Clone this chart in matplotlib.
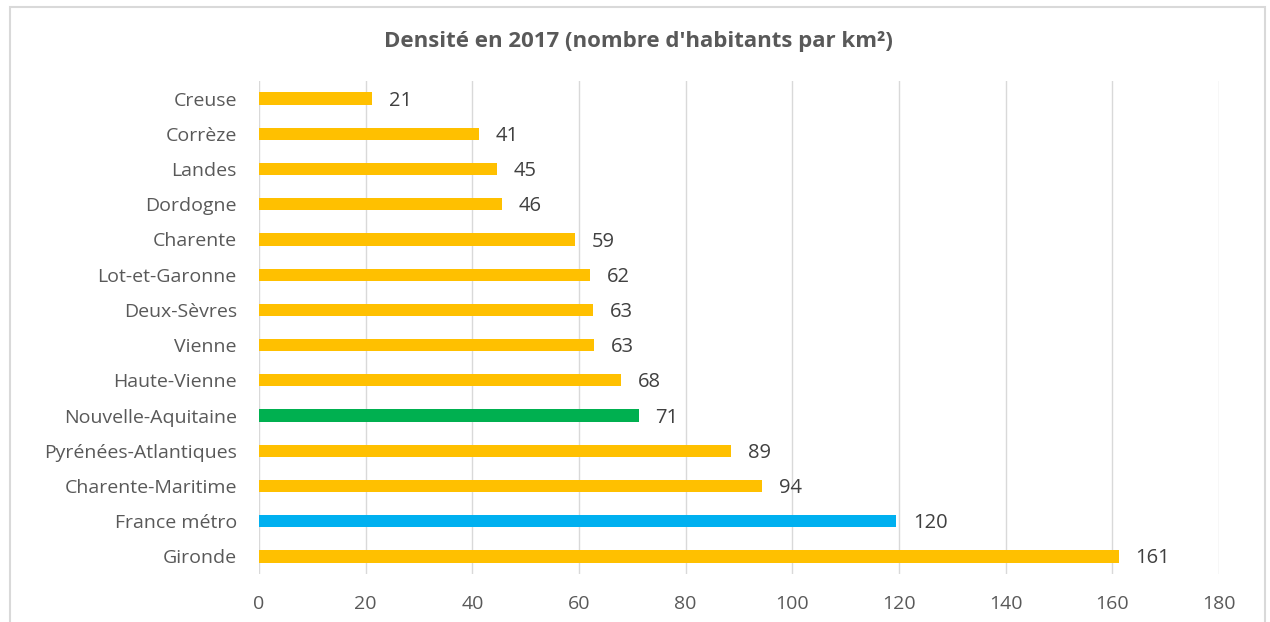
import matplotlib.pyplot as plt
from matplotlib.patches import Rectangle

# Data (top to bottom as displayed)
regions = [
    'Creuse', 'Corrèze', 'Landes', 'Dordogne', 'Charente', 'Lot-et-Garonne',
    'Deux-Sèvres', 'Vienne', 'Haute-Vienne', 'Nouvelle-Aquitaine',
    'Pyrénées-Atlantiques', 'Charente-Maritime', 'France métro', 'Gironde',
]
density = [21.2, 41.2, 44.6, 45.6, 59.3, 62.1, 62.6, 62.8, 67.9, 71.2,
           88.5, 94.4, 119.5, 161.2]
labels = [21, 41, 45, 46, 59, 62, 63, 63, 68, 71, 89, 94, 120, 161]

ORANGE = '#FFC000'
GREEN = '#00B050'
BLUE = '#00B0F0'
TEXT = '#595959'

colors = []
for r in regions:
    if r == 'Nouvelle-Aquitaine':
        colors.append(GREEN)
    elif r == 'France métro':
        colors.append(BLUE)
    else:
        colors.append(ORANGE)

plt.rcParams['font.family'] = ['Open Sans', 'DejaVu Sans']

W, H = 1270, 622
fig = plt.figure(figsize=(W / 100, H / 100), dpi=100)
ax = fig.add_axes([259 / W, 1 - 574 / H, (1219 - 259) / W, (574 - 81) / H])

y = list(range(len(regions)))
ax.barh(y, density, height=0.35, color=colors, zorder=3)
for yi, v, lab in zip(y, density, labels):
    ax.annotate(str(lab), (v, yi), xytext=(12, -1.5), textcoords='offset points',
                va='center', ha='left', fontsize=14.5, color='#404040')

ax.set_xlim(0, 180)
ax.set_ylim(len(regions) - 0.5, -0.5)
ax.set_xticks(range(0, 181, 20))
ax.set_yticks(y)
ax.set_yticklabels(regions)
ax.tick_params(axis='both', length=0, labelsize=14, labelcolor=TEXT)
ax.tick_params(axis='x', pad=15)
ax.tick_params(axis='y', pad=16)
ax.grid(axis='x', color='#d9d9d9', linewidth=1, zorder=0)
for s in ax.spines.values():
    s.set_visible(False)

fig.text(638 / W, 1 - 41 / H, "Densité en 2017 (nombre d'habitants par km²)",
         ha='center', va='center', fontsize=16, fontweight='bold', color=TEXT)

# chart frame
fig.patches.append(Rectangle((10 / W, -0.1), (1265 - 10) / W, 1.1 - 7 / H,
                             transform=fig.transFigure, fill=False,
                             edgecolor='#d9d9d9', linewidth=1.5))

fig.savefig('out.png', dpi=100)
